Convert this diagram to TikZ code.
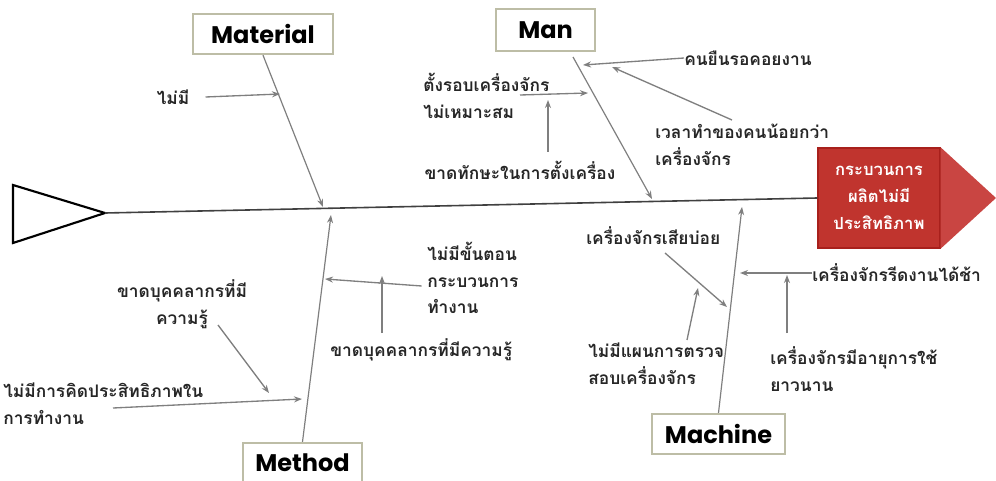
\documentclass[tikz,border=0pt]{standalone}
\usepackage{fontspec}
\usetikzlibrary{arrows.meta}
\newfontfamily\thaifont[Script=Thai]{Loma}
\newfontfamily\catfont{Poppins}
\definecolor{bonegray}{HTML}{7F7F7F}
\definecolor{boxline}{HTML}{BDBDA6}
\definecolor{headred}{HTML}{C0342E}
\definecolor{headtipred}{HTML}{C94542}
\definecolor{headedge}{HTML}{A8201C}
\tikzset{
  catbox/.style={draw=boxline, line width=1.8pt, fill=white, inner sep=0pt,
    font=\catfont\bfseries\fontsize{18}{20}\selectfont, minimum height=30pt},
  cause/.style={font=\thaifont\bfseries\fontsize{13}{20}\selectfont, text=black!85, inner sep=0pt},
  bone/.style={draw=bonegray, line width=0.9pt, -{Stealth[length=6pt,width=4.5pt]}},
  ptr/.style={draw=bonegray, line width=1pt, -{Stealth[length=6pt,width=4.5pt]}},
}
\begin{document}
\begin{tikzpicture}[x=0.75pt,y=-0.75pt]
\useasboundingbox (0,0) rectangle (996,481);

% tail and head
\draw[line width=1.6pt] (13,185) -- (105,213) coordinate (tail) -- (13,243) -- cycle;
\node[draw=headedge, fill=headred, line width=1pt, minimum width=91.5pt, minimum height=75pt,
  text=white, align=center, font=\thaifont\bfseries\fontsize{12.5}{20}\selectfont] (head) at (879,198)
  {กระบวนการ\\ผลิตไม่มี\\ประสิทธิภาพ};
\fill[headtipred] (head.north east) -- (996,198) coordinate (point) -- (head.south east) -- cycle;
\draw[line width=1.2pt, draw=black!75] (tail) -- (head.west);

% category boxes
\node[catbox, minimum width=105pt] (material) at (263,34) {Material};
\node[catbox, minimum width=74pt, minimum height=31.5pt] (man) at (545.5,30) {Man};
\node[catbox, minimum width=100pt] (machine) at (718.5,434) {Machine};
\node[catbox, minimum width=89pt] (method) at (302.5,463) {Method};

% bones
\coordinate (matend) at (323,207);
\draw[bone] (material.south) -- (matend);
\coordinate (mantop) at (573,57);
\coordinate (manend) at (652,199);
\draw[bone] (mantop) -- (manend);
\coordinate (machend) at (742,207);
\draw[bone] (machine.north) -- (machend);
\coordinate (metend) at (331,215);
\draw[bone] (method.north) -- (metend);

% material
\node[cause] (mat1) at (173,97) {ไม่มี};
\coordinate (mat1in) at (280,94);
\draw[ptr] (mat1.east) ++(12pt,0) coordinate (mat1out) (mat1out) -- (mat1in);

% man
\node[cause, anchor=west, align=left] (man1) at (423,96) {ตั้งรอบเครื่องจักร\\ไม่เหมาะสม};
\coordinate (man1out) at (520,95);
\coordinate (man1in) at (588,93);
\draw[ptr] (man1out) -- (man1in);
\node[cause] (man1sub) at (520,170) {ขาดทักษะในการตั้งเครื่อง};
\coordinate (man1subout) at (548,152);
\coordinate (man1subin) at (548,100);
\draw[ptr] (man1subout) -- (man1subin);
\node[cause, anchor=west] (man2) at (684,58) {คนยืนรอคอยงาน};
\coordinate (man2in) at (583,65);
\draw[ptr] (man2.west) -- (man2in);
\node[cause, anchor=west, align=left] (man3) at (655,145) {เวลาทำของคนน้อยกว่า\\เครื่องจักร};
\coordinate (man3out) at (732,120);
\coordinate (man3in) at (612,67);
\draw[ptr] (man3out) -- (man3in);

% machine
\node[cause, anchor=west] (mach1) at (586,236) {เครื่องจักรเสียบ่อย};
\coordinate (mach1out) at (665,253);
\coordinate (mach1in) at (727,307);
\draw[ptr] (mach1out) -- (mach1in);
\node[cause, anchor=west, align=left] (mach1sub) at (588,364) {ไม่มีแผนการตรวจ\\สอบเครื่องจักร};
\coordinate (mach1subout) at (687,340);
\coordinate (mach1subin) at (698,288);
\draw[ptr] (mach1subout) -- (mach1subin);
\node[cause, anchor=west] (mach2) at (812,273) {เครื่องจักรรีดงานได้ช้า};
\coordinate (mach2in) at (740,273);
\draw[ptr] (mach2.west) -- (mach2in);
\node[cause, anchor=west, align=left] (mach2sub) at (770,369) {เครื่องจักรมีอายุการใช้\\ยาวนาน};
\coordinate (mach2subout) at (787,333);
\coordinate (mach2subin) at (787,275);
\draw[ptr] (mach2subout) -- (mach2subin);

% method
\node[cause, anchor=west, align=left] (met1) at (427,278) {ไม่มีขั้นตอน\\กระบวนการ\\ทำงาน};
\coordinate (met1in) at (325,279);
\draw[ptr] (met1.west) ++(-4pt,-6pt) coordinate (met1out) (met1out) -- (met1in);
\node[cause, anchor=west] (met1sub) at (330,350) {ขาดบุคคลากรที่มีความรู้};
\coordinate (met1subout) at (382,333);
\coordinate (met1subin) at (382,276);
\draw[ptr] (met1subout) -- (met1subin);
\node[cause, align=center] (met2) at (182,304) {ขาดบุคคลากรที่มี\\ความรู้};
\coordinate (met2out) at (218,325);
\coordinate (met2in) at (269,393);
\draw[ptr] (met2out) -- (met2in);
\node[cause, anchor=west, align=left] (met3) at (3,404) {ไม่มีการคิดประสิทธิภาพใน\\การทำงาน};
\coordinate (met3out) at (113,408);
\coordinate (met3in) at (302,399);
\draw[ptr] (met3out) -- (met3in);
\end{tikzpicture}
\end{document}
